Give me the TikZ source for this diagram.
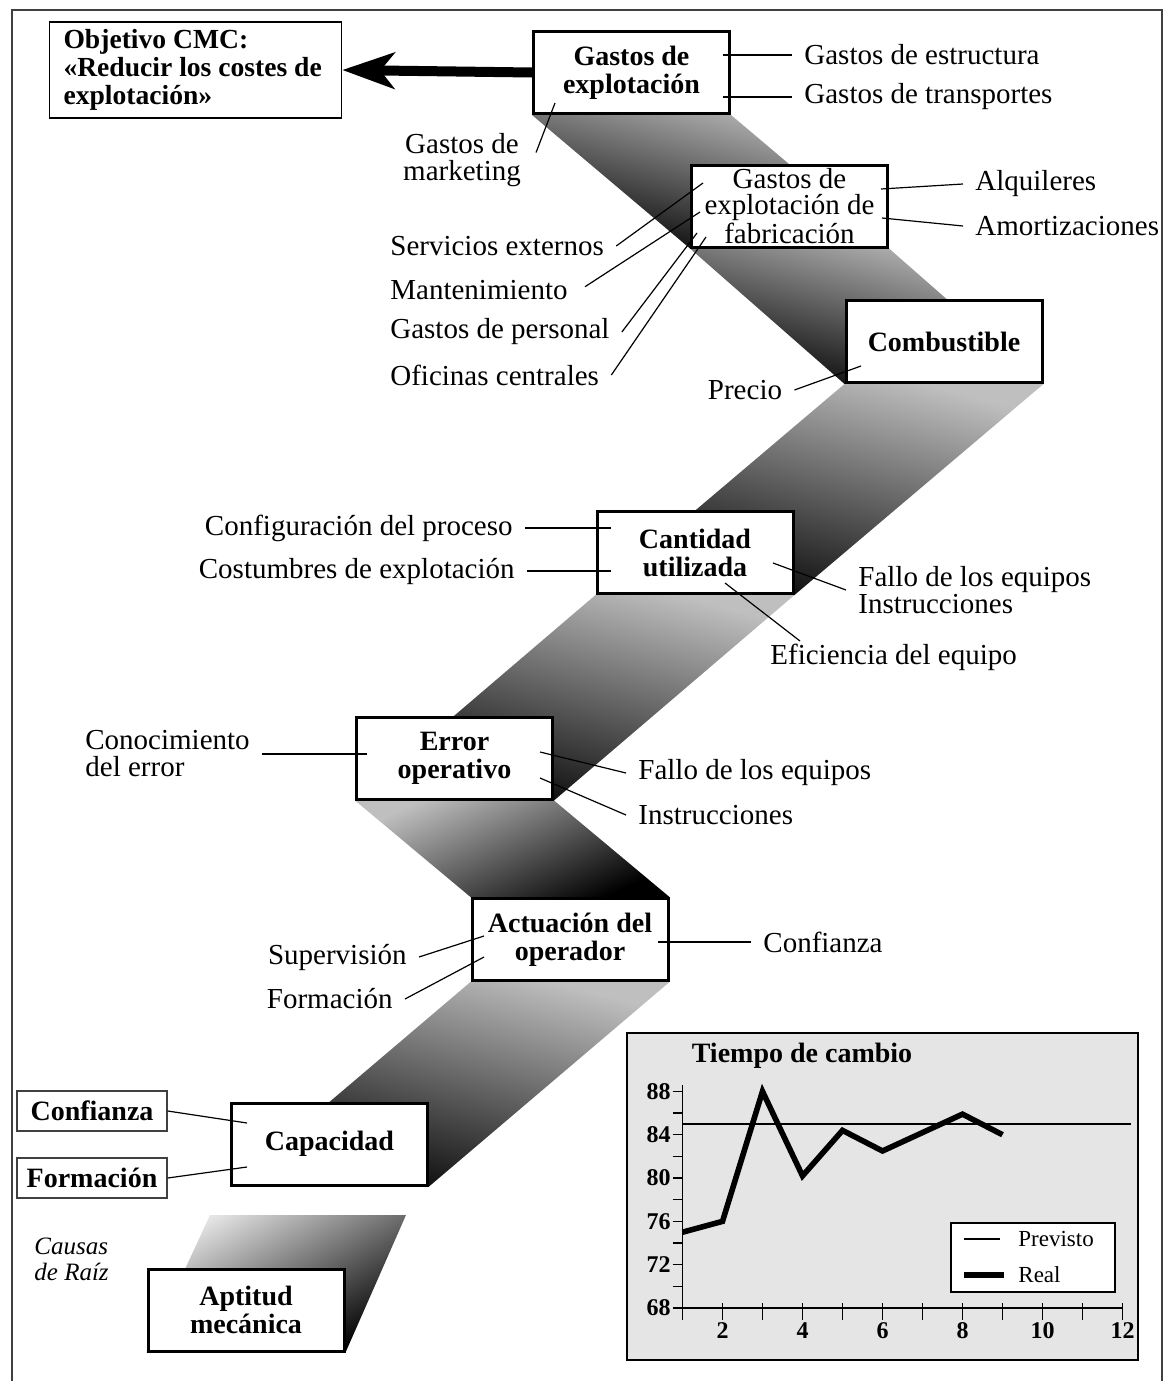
\documentclass[tikz,border=0pt]{standalone}
\usepackage{fontspec}
\setmainfont{Liberation Serif}
\usetikzlibrary{arrows.meta,calc}
\pgfdeclarelayer{background}
\pgfsetlayers{background,main}
\begin{document}
\begin{tikzpicture}[x=0.5pt,y=-0.5pt,
  mainbox/.style={draw, line width=1.5pt, fill=white, align=center, minimum width=98pt, minimum height=41pt, inner sep=1pt, font=\fontsize{14}{14}\selectfont\bfseries},
  lab/.style={inner xsep=6pt, inner ysep=1pt, font=\fontsize{14.5}{13.5}\selectfont, align=left},
  lead/.style={line width=0.6pt},
  smallbox/.style={draw=black!75, line width=0.7pt, fill=white, minimum width=75pt, minimum height=20pt, inner sep=1pt, font=\fontsize{14}{14}\selectfont\bfseries},
  ribbon/.style={top color=black!25, middle color=black!90, bottom color=black, shading angle=-15},
  ticklab/.style={inner sep=1pt, font=\fontsize{12}{12}\selectfont\bfseries},
  legtext/.style={anchor=west, inner sep=1pt, font=\fontsize{11.5}{12}\selectfont},
]
\useasboundingbox (0,0) rectangle (1165,1381);
% outer frame
\draw[line width=0.9pt, black!75] (12,1381) -- (12,10) -- (1162,10) -- (1162,1381);

% main boxes
\node[mainbox] (gastos) at (631.5,72.5) {Gastos de\\explotación};
\node[mainbox, inner sep=0pt, font=\fontsize{14.5}{13.25}\selectfont] (fab) at (789.5,206) {Gastos de\\explotación de\\fabricación};
\node[mainbox] (comb) at (944,341.5) {Combustible};
\node[mainbox] (cant) at (695,552.5) {Cantidad\\utilizada};
\node[mainbox] (err) at (454.5,758) {Error\\operativo};
\node[mainbox] (act) at (570,939.5) {Actuación del\\operador};
\node[mainbox] (cap) at (329.5,1144) {Capacidad};
\node[mainbox] (apt) at (246,1310) {Aptitud\\mecánica};

\node[draw, line width=0.8pt, fill=white, minimum height=48pt, text width=132pt, inner xsep=7pt, align=flush left, font=\fontsize{13.8}{14}\selectfont\bfseries] (obj) at (195.5,70) {Objetivo CMC:\\«Reducir los costes de\\explotación»};

\node[smallbox] (conf2) at (92,1111) {Confianza};
\node[smallbox] (form2) at (92,1178) {Formación};

% ribbons
\begin{pgfonlayer}{background}
\shade[ribbon] (gastos.south west) -- (gastos.south east) -- (fab.south east) -- (fab.south west) -- cycle;
\shade[ribbon] (fab.south west) -- (fab.south east) -- (comb.south east) -- (comb.south west) -- cycle;
\shade[ribbon] (comb.south west) -- (comb.south east) -- (cant.south east) -- (cant.south west) -- cycle;
\shade[ribbon] (cant.south west) -- (cant.south east) -- (err.south east) -- (err.south west) -- cycle;
\shade[ribbon, shading angle=25] (err.south west) -- (err.south east) -- (act.north east) -- (act.north west) -- cycle;
\shade[ribbon] (act.south west) -- (act.south east) -- (cap.south east) -- (cap.south west) -- cycle;
\coordinate (r7a) at (210,1215);
\coordinate (r7b) at (406,1215);
\shade[top color=black!10, middle color=black!55, bottom color=black, shading angle=30] (r7a) -- (r7b) -- (apt.south east) -- (apt.south west) -- cycle;
\end{pgfonlayer}

% main arrow
\draw[line width=5pt, -{Stealth[length=26pt, width=18pt, inset=7pt]}] (gastos.west) -- (obj.east);

% labels around Gastos de explotacion
\node[lab, anchor=west] (gestr) at (792,55) {Gastos de estructura};
\node[lab, anchor=west] (gtran) at (792,97) {Gastos de transportes};
\draw[lead, shorten >=-4pt] (gestr.west) -- (gestr.west -| gastos.east);
\draw[lead, shorten >=-4pt] (gtran.west) -- (gtran.west -| gastos.east);
\node[lab, align=center] (mkt) at (462,160) {Gastos de\\marketing};
\coordinate (mktend) at (555,103);
\draw[lead, shorten <=4pt] (mkt.east) -- (mktend);

% labels around fabricacion
\node[lab, anchor=west] (alq) at (963,184) {Alquileres};
\node[lab, anchor=west] (amo) at (963,226) {Amortizaciones};
\coordinate (fa1) at (881,189);
\coordinate (fa2) at (882,218);
\draw[lead] (alq.west) -- (fa1);
\draw[lead] (amo.west) -- (fa2);
\node[lab, anchor=west] (serv) at (378,246) {Servicios externos};
\node[lab, anchor=west] (mant) at (378,290) {Mantenimiento};
\node[lab, anchor=west] (pers) at (378,332) {Gastos de personal};
\node[lab, anchor=west] (ofic) at (378,375) {Oficinas centrales};
\coordinate (fl1) at (703,183);
\coordinate (fl2) at (700,212);
\coordinate (fl3) at (697,233);
\coordinate (fl4) at (706,237);
\draw[lead] (serv.east) -- (fl1);
\draw[lead, shorten <=3pt] (mant.east) -- (fl2);
\draw[lead] (pers.east) -- (fl3);
\draw[lead] (ofic.east) -- (fl4);

% combustible
\node[lab] (prec) at (745,390) {Precio};
\coordinate (pc) at (861,366);
\draw[lead] (prec.east) -- (pc);

% cantidad utilizada
\node[lab, anchor=east] (conf) at (525,528) {Configuración del proceso};
\node[lab, anchor=east] (cost) at (527,571) {Costumbres de explotación};
\draw[lead, shorten >=-7.5pt] (conf.east) -- (conf.east -| cant.west);
\draw[lead, shorten >=-7.5pt] (cost.east) -- (cost.east -| cant.west);
\node[lab, anchor=west] (fallo) at (846,590) {Fallo de los equipos\\Instrucciones};
\coordinate (cu1) at (773,563);
\draw[lead] (cu1) -- (fallo.west);
\node[lab, anchor=west] (efic) at (758,657) {Eficiencia del equipo};
\coordinate (cu2) at (725,583);
\coordinate (cu3) at (800,641);
\draw[lead] (cu2) -- (cu3);

% error operativo
\node[lab, anchor=west] (conoc) at (73,754) {Conocimiento\\del error};
\draw[lead] (conoc.east) -- ([xshift=6pt]conoc.east -| err.west);
\node[lab, anchor=west] (fallo2) at (626,773) {Fallo de los equipos};
\node[lab, anchor=west] (instr2) at (626,815) {Instrucciones};
\coordinate (eo1) at (540,752);
\coordinate (eo2) at (540,778);
\draw[lead] (eo1) -- (fallo2.west);
\draw[lead] (eo2) -- (instr2.west);

% actuacion del operador
\node[lab, anchor=west] (confa) at (751,942) {Confianza};
\draw[lead] (confa.west) -- ([xshift=-6pt]confa.west -| act.east);
\node[lab, anchor=east] (superv) at (419,957) {Supervisión};
\node[lab, anchor=east] (forma) at (405,999) {Formación};
\coordinate (ac1) at (484,936);
\coordinate (ac2) at (484,957);
\draw[lead] (superv.east) -- (ac1);
\draw[lead] (forma.east) -- (ac2);

% capacidad
\coordinate (cp1) at (247,1123);
\coordinate (cp2) at (247,1167);
\draw[lead] (conf2.east) -- (cp1);
\draw[lead] (form2.east) -- (cp2);

% causas de raiz
\node[anchor=west, inner sep=2pt, align=left, font=\fontsize{12.5}{13}\selectfont\itshape] (causas) at (30,1259) {Causas\\de Raíz};

% chart
\node[draw, line width=0.8pt, fill=black!10, minimum width=255.5pt, minimum height=163.5pt, inner sep=0pt] (chart) at (882.5,1196.5) {};
\node[inner sep=1pt, font=\fontsize{14}{14}\selectfont\bfseries] (ctitle) at (802,1056) {Tiempo de cambio};
\begin{scope}[shift={(642.5,1308)}, x=20pt, y=5.415pt]
  \draw[line width=0.9pt] (1,0) -- (1,20.6);
  \draw[line width=0.9pt] (1,0) -- (12,0);
  \foreach \n in {1,...,12} \draw[line width=0.7pt] (\n,-1.1) -- (\n,0.5);
  \foreach \v in {0,2,...,20} \draw[line width=0.7pt] (0.75,\v) -- (1,\v);
  \foreach \v/\l in {0/68,4/72,8/76,12/80,16/84,20/88} \node[ticklab, anchor=east] (yl\l) at (0.76,\v) {\l};
  \foreach \n in {2,4,...,12} \node[ticklab] (xl\n) at (\n,-2.1) {\n};
  \draw[line width=0.6pt] (1,17) -- (12.2,17);
  \draw[line width=2.8pt, line join=miter] (1,7) -- (2,8) -- (3,20) -- (4,12.2) -- (5,16.4) -- (6,14.5) -- (7,16.2) -- (8,17.9) -- (9,16);
\end{scope}
\node[draw, line width=0.7pt, fill=white, minimum width=82pt, minimum height=34.5pt, inner sep=0pt] (leg) at (1033,1257.5) {};
\node[legtext] (lprev) at (1016,1239) {Previsto};
\node[legtext] (lreal) at (1016,1275) {Real};
\draw[line width=0.6pt] ([xshift=-26pt]lprev.west) -- ([xshift=-8pt]lprev.west);
\draw[line width=2.8pt] ([xshift=-26pt]lreal.west) -- ([xshift=-6pt]lreal.west);
\end{tikzpicture}
\end{document}
